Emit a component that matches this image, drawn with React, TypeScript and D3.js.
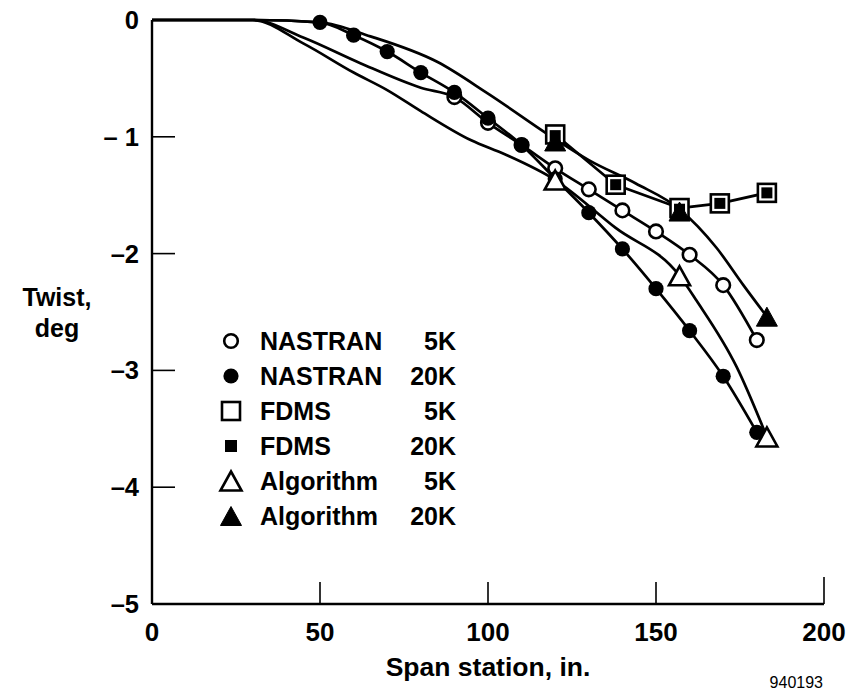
import React from "react";
import * as d3 from "d3";

// ---- data ----
const xTicks = [0, 50, 100, 150, 200];
const yTicks = [0, -1, -2, -3, -4, -5];
const yTickLabels = ["0", "– 1", "–2", "–3", "–4", "–5"];

// NASTRAN 5K (open circles) – unmarked lead-in then marked points
const nastran5kLeadX = [0, 30, 45, 62, 80];
const nastran5kLeadY = [0, 0, -0.15, -0.37, -0.58];
const nastran5kX = [90, 100, 110, 120, 130, 140, 150, 160, 170, 180];
const nastran5kY = [-0.66, -0.88, -1.07, -1.27, -1.45, -1.63, -1.81, -2.01, -2.27, -2.74];

// NASTRAN 20K (filled circles)
const nastran20kLeadX = [0, 30];
const nastran20kLeadY = [0, 0];
const nastran20kX = [50, 60, 70, 80, 90, 100, 110, 120, 130, 140, 150, 160, 170, 180];
const nastran20kY = [-0.02, -0.13, -0.27, -0.45, -0.62, -0.84, -1.07, -1.36, -1.65, -1.96, -2.3, -2.66, -3.05, -3.53];

// FDMS
const fdmsX = [120, 138, 157, 169, 183];
const fdms5kY = [-0.98, -1.41, -1.61, -1.57, -1.48];
const fdms20kY = [-0.99, -1.41, -1.62, -1.57, -1.48];

// Algorithm 20K (smooth curve + filled triangles)
const alg20kCurveX = [0, 30, 50, 65, 85, 100, 120, 130, 144, 157, 168, 176, 183];
const alg20kCurveY = [0, 0, -0.02, -0.14, -0.36, -0.63, -1.02, -1.2, -1.4, -1.62, -1.95, -2.27, -2.54];
const alg20kX = [120, 157, 183];
const alg20kY = [-1.04, -1.64, -2.54];

// Algorithm 5K (smooth curve + open triangles)
const alg5kCurveX = [0, 30, 45, 60, 70, 80, 95, 105, 120, 138, 157, 162, 174, 183];
const alg5kCurveY = [0, 0, -0.2, -0.45, -0.6, -0.78, -1.03, -1.15, -1.37, -1.78, -2.19, -2.4, -2.97, -3.57];
const alg5kX = [120, 157, 183];
const alg5kY = [-1.37, -2.19, -3.57];

const legendNames = ["NASTRAN", "NASTRAN", "FDMS", "FDMS", "Algorithm", "Algorithm"];
const legendLoads = ["5K", "20K", "5K", "20K", "5K", "20K"];
const legendSymbols = ["openCircle", "filledCircle", "openSquare", "filledSquare", "openTriangle", "filledTriangle"];

// ---- layout ----
const W = 848;
const H = 693;
const X0 = 152;
const X1 = 824;
const Y0 = 20;
const Y1 = 604;
const FONT = "'Liberation Sans', Arial, Helvetica, sans-serif";

const x = d3.scaleLinear().domain([0, 200]).range([X0, X1]);
const y = d3.scaleLinear().domain([-5, 0]).range([Y1, Y0]);

const zip = (xs: number[], ys: number[]) => xs.map((v, i) => [v, ys[i]] as [number, number]);

const smooth = d3
  .line<[number, number]>()
  .x((d) => x(d[0]))
  .y((d) => y(d[1]))
  .curve(d3.curveMonotoneX);
const straight = d3
  .line<[number, number]>()
  .x((d) => x(d[0]))
  .y((d) => y(d[1]))
  .curve(d3.curveLinear);

function Marker({ kind, cx, cy, legend }: { kind: string; cx: number; cy: number; legend?: boolean }) {
  const sw = 2.6;
  if (kind === "openCircle") return <circle cx={cx} cy={cy} r={6.8} fill="#fff" stroke="#000" strokeWidth={sw} />;
  if (kind === "filledCircle") return <circle cx={cx} cy={cy} r={7.6} fill="#000" />;
  if (kind === "openSquare") {
    const s = 18;
    return <rect x={cx - s / 2} y={cy - s / 2} width={s} height={s} fill="#fff" stroke="#000" strokeWidth={sw} />;
  }
  if (kind === "filledSquare") {
    const s = legend ? 12 : 11;
    return <rect x={cx - s / 2} y={cy - s / 2} width={s} height={s} fill="#000" />;
  }
  const w = 21;
  const h = 19;
  const pts = `${cx},${cy - h / 2} ${cx + w / 2},${cy + h / 2} ${cx - w / 2},${cy + h / 2}`;
  if (kind === "openTriangle")
    return <polygon points={pts} fill="#fff" stroke="#000" strokeWidth={sw} strokeLinejoin="miter" />;
  return <polygon points={pts} fill="#000" stroke="#000" strokeWidth={1} />;
}

export default function App() {
  const lineStyle = { fill: "none", stroke: "#000", strokeWidth: 2.7, strokeLinejoin: "round" as const };
  const nastran5kLine = [...zip(nastran5kLeadX, nastran5kLeadY), ...zip(nastran5kX, nastran5kY)];
  const nastran20kLine = [...zip(nastran20kLeadX, nastran20kLeadY), ...zip(nastran20kX, nastran20kY)];
  const legendRowY = (i: number) => 341 + i * 35;

  return (
    <svg
      width={W}
      height={H}
      viewBox={`0 0 ${W} ${H}`}
      style={{ position: "absolute", left: 0, top: 0, background: "#fff" }}
      fontFamily={FONT}
    >
      <rect x={0} y={0} width={W} height={H} fill="#fff" />

      {/* axes */}
      <line x1={X0} y1={Y0} x2={X0} y2={Y1} stroke="#000" strokeWidth={2.4} />
      <line x1={X0} y1={Y1} x2={X1} y2={Y1} stroke="#000" strokeWidth={2.4} />
      {yTicks
        .filter((t) => t !== 0 && t !== -5)
        .map((t) => (
          <line key={"yt" + t} x1={X0} x2={X0 + 23} y1={y(t)} y2={y(t)} stroke="#000" strokeWidth={1.6} />
        ))}
      {xTicks
        .filter((t) => t !== 0)
        .map((t) => (
          <line key={"xt" + t} x1={x(t)} x2={x(t)} y1={Y1} y2={Y1 - (t === 200 ? 27 : 22)} stroke="#000" strokeWidth={1.6} />
        ))}
      {yTicks.map((t, i) => (
        <text key={"yl" + t} x={139} y={y(t) + 9} textAnchor="end" fontSize={25.5} fontWeight="bold">
          {yTickLabels[i]}
        </text>
      ))}
      {xTicks.map((t) => (
        <text key={"xl" + t} x={x(t)} y={641} textAnchor="middle" fontSize={26} fontWeight="bold">
          {t}
        </text>
      ))}
      <text x={488} y={676} textAnchor="middle" fontSize={26.5} fontWeight="bold">
        Span station, in.
      </text>
      <text x={57} y={306} textAnchor="middle" fontSize={25} fontWeight="bold">
        Twist,
      </text>
      <text x={57} y={337} textAnchor="middle" fontSize={25} fontWeight="bold">
        deg
      </text>
      <text x={823} y={688} textAnchor="end" fontSize={16}>
        940193
      </text>

      {/* lines */}
      <path d={smooth(zip(alg20kCurveX, alg20kCurveY)) || ""} {...lineStyle} />
      <path d={smooth(zip(alg5kCurveX, alg5kCurveY)) || ""} {...lineStyle} />
      <path d={smooth(nastran5kLine) || ""} {...lineStyle} />
      <path d={smooth(nastran20kLine) || ""} {...lineStyle} />
      <path d={straight(zip(fdmsX, fdms5kY)) || ""} {...lineStyle} />

      {/* markers */}
      {fdmsX.map((v, i) => (
        <Marker key={"f5" + i} kind="openSquare" cx={x(v)} cy={y(fdms5kY[i])} />
      ))}
      {fdmsX.map((v, i) => (
        <Marker key={"f20" + i} kind="filledSquare" cx={x(v)} cy={y(fdms20kY[i])} />
      ))}
      {nastran5kX.map((v, i) => (
        <Marker key={"n5" + i} kind="openCircle" cx={x(v)} cy={y(nastran5kY[i])} />
      ))}
      {nastran20kX.map((v, i) => (
        <Marker key={"n20" + i} kind="filledCircle" cx={x(v)} cy={y(nastran20kY[i])} />
      ))}
      {alg5kX.map((v, i) => (
        <Marker key={"a5" + i} kind="openTriangle" cx={x(v)} cy={y(alg5kY[i])} />
      ))}
      {alg20kX.map((v, i) => (
        <Marker key={"a20" + i} kind="filledTriangle" cx={x(v)} cy={y(alg20kY[i])} />
      ))}

      {/* legend */}
      {legendNames.map((n, i) => (
        <g key={"lg" + i}>
          <Marker kind={legendSymbols[i]} cx={231} cy={legendRowY(i)} legend />
          <text x={260} y={legendRowY(i) + 9} fontSize={25} fontWeight="bold">
            {n}
          </text>
          <text x={456} y={legendRowY(i) + 9} textAnchor="end" fontSize={25} fontWeight="bold">
            {legendLoads[i]}
          </text>
        </g>
      ))}
    </svg>
  );
}
